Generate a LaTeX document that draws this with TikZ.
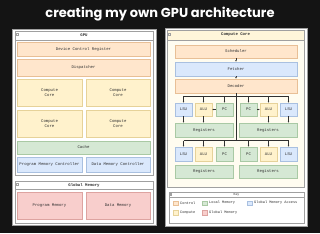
\documentclass[tikz,border=0pt]{standalone}
\usepackage{fontspec}
\newfontfamily\titlefont{Poppins}
\newfontfamily\boxfont{Liberation Mono}
\usetikzlibrary{arrows.meta}
\definecolor{bgDark}{HTML}{141414}
\definecolor{ctrlFill}{HTML}{FFE6CC}
\definecolor{ctrlLine}{HTML}{E8BF96}
\definecolor{compFill}{HTML}{FFF2CC}
\definecolor{compLine}{HTML}{E6D299}
\definecolor{locFill}{HTML}{D5E8D4}
\definecolor{locLine}{HTML}{A9C9A4}
\definecolor{gmaFill}{HTML}{DAE8FC}
\definecolor{gmaLine}{HTML}{A9C0E0}
\definecolor{gmFill}{HTML}{F8CECC}
\definecolor{gmLine}{HTML}{DDA3A0}
\definecolor{laneLine}{HTML}{A0A0A0}
\definecolor{coreTint}{HTML}{FFFCF0}
\definecolor{coreHead}{HTML}{FFF6DA}
\definecolor{txtGray}{HTML}{303030}

\begin{document}
\begin{tikzpicture}[x=1pt,y=-1pt,
    panel/.style={draw=laneLine,line width=0.4pt,fill=white},
    lane/.style={draw=laneLine,line width=0.35pt},
    lanehd/.style={font=\boxfont\bfseries\fontsize{4}{5}\selectfont,text=txtGray,inner sep=0pt},
    blk/.style={line width=0.3pt,inner sep=0pt,align=center,
                font=\boxfont\fontsize{4}{5}\selectfont,text=txtGray},
    sz/.style 2 args={minimum width=#1pt,minimum height=#2pt},
    ctrl/.style={blk,draw=ctrlLine,fill=ctrlFill},
    comp/.style={blk,draw=compLine,fill=compFill},
    locmem/.style={blk,draw=locLine,fill=locFill},
    gmacc/.style={blk,draw=gmaLine,fill=gmaFill},
    gmem/.style={blk,draw=gmLine,fill=gmFill},
    keytxt/.style={font=\boxfont\fontsize{3.6}{4}\selectfont,text=txtGray,inner sep=0pt,anchor=west},
    wire/.style={line width=0.35pt,txtGray},
    arr/.style={-{Latex[length=1.8pt,width=1.6pt]},line width=0.35pt,txtGray}]
  \fill[bgDark] (0,0) rectangle (320,233);
  \node[font=\titlefont\bfseries\fontsize{13}{15}\selectfont,text=white] (title) at (160,14) {creating my own GPU architecture};

  \draw[panel] (12,29) rectangle (156,225);
  \draw[lane] (15,31) rectangle (153,175);
  \draw[lane] (15,40) -- (153,40);
  \draw[lane] (16.5,33.5) rectangle (18.5,35.5);
  \node[lanehd] (gpuhd) at (84,35.5) {GPU};
  \node[ctrl,sz={133}{14}] (dcr) at (83.5,49) {Device Control Register};
  \node[ctrl,sz={133}{17}] (disp) at (83.5,67.5) {Dispatcher};
  \node[comp,sz={65}{27}] (cc1) at (49.5,92.5) {Compute\\Core};
  \node[comp,sz={64}{27}] (cc2) at (118,92.5) {Compute\\Core};
  \node[comp,sz={65}{27}] (cc3) at (49.5,123.5) {Compute\\Core};
  \node[comp,sz={64}{27}] (cc4) at (118,123.5) {Compute\\Core};
  \node[locmem,sz={133}{13}] (cache) at (83.5,147.5) {Cache};
  \node[gmacc,sz={65}{15}] (pmc) at (49.5,164.5) {Program Memory Controller};
  \node[gmacc,sz={64}{15}] (dmc) at (118,164.5) {Data Memory Controller};

  \draw[lane] (15,181) rectangle (153,223);
  \draw[lane] (15,189) -- (153,189);
  \draw[lane] (16.5,183.5) rectangle (18.5,185.5);
  \node[lanehd] (gmhd) at (84,185) {Global Memory};
  \node[gmem,sz={65}{27}] (pmem) at (49.5,205.5) {Program Memory};
  \node[gmem,sz={64}{27}] (dmem) at (118,205.5) {Data Memory};

  \draw[panel] (165,28) rectangle (307,226);
  \draw[lane,fill=coreTint] (167,30) rectangle (304,187);
  \draw[lane,fill=coreHead] (167,30) rectangle (304,40);
  \draw[lane] (168.5,33) rectangle (170.5,35);
  \node[lanehd] (corehd) at (235.5,35) {Compute Core};
  \node[ctrl,sz={122}{13}] (sched) at (236,51.5) {Scheduler};
  \node[gmacc,sz={122}{14}] (fetch) at (236,69) {Fetcher};
  \node[ctrl,sz={122}{14}] (dec) at (236,86) {Decoder};
  \draw[arr] (sched) -- (fetch);
  \draw[arr] (fetch) -- (dec);

  \node[gmacc,sz={17}{13}] (lsuA) at (183.5,109.5) {LSU};
  \node[comp,sz={17}{13}] (aluA) at (203.5,109.5) {ALU};
  \node[locmem,sz={17}{13}] (pcA) at (224.5,109.5) {PC};
  \node[locmem,sz={17}{13}] (pcB) at (248.5,109.5) {PC};
  \node[comp,sz={17}{13}] (aluB) at (268.5,109.5) {ALU};
  \node[gmacc,sz={17}{13}] (lsuB) at (288.5,109.5) {LSU};
  \node[locmem,sz={58}{14}] (regA) at (204,130) {Registers};
  \node[locmem,sz={58}{14}] (regB) at (268,130) {Registers};

  \node[gmacc,sz={17}{14}] (lsuC) at (183.5,154) {LSU};
  \node[comp,sz={17}{14}] (aluC) at (203.5,154) {ALU};
  \node[locmem,sz={17}{14}] (pcC) at (224.5,154) {PC};
  \node[locmem,sz={17}{14}] (pcD) at (248.5,154) {PC};
  \node[comp,sz={17}{14}] (aluD) at (268.5,154) {ALU};
  \node[gmacc,sz={17}{14}] (lsuD) at (288.5,154) {LSU};
  \node[locmem,sz={58}{13}] (regC) at (204,171.5) {Registers};
  \node[locmem,sz={58}{13}] (regD) at (268,171.5) {Registers};

  \coordinate (br1) at (236,96);
  \coordinate (br2) at (236,140.5);
  \draw[wire] (dec.south) -- (br2);
  \draw[wire] (lsuA |- br1) -- (lsuB |- br1);
  \draw[wire] (lsuC |- br2) -- (lsuD |- br2);
  \foreach \u in {lsuA,aluA,pcA,pcB,aluB,lsuB}
    \draw[arr] (\u |- br1) -- (\u.north);
  \foreach \u in {lsuC,aluC,pcC,pcD,aluD,lsuD}
    \draw[arr] (\u |- br2) -- (\u.north);
  \draw[arr] (pcA) -- (aluA);
  \draw[arr] (pcB) -- (aluB);
  \draw[arr] (lsuA) -- (regA.north -| lsuA);
  \draw[arr] (aluA) -- (regA.north -| aluA);
  \draw[arr] (aluB) -- (regB.north -| aluB);
  \draw[arr] (lsuB) -- (regB.north -| lsuB);

  \draw[lane,fill=white] (169,192) rectangle (304,223);
  \draw[lane] (169,197) -- (304,197);
  \draw[lane] (170,193.5) rectangle (171.5,195);
  \node[font=\boxfont\fontsize{3.2}{4}\selectfont,text=txtGray,inner sep=0pt] (keyhd) at (236.5,194.5) {Key};
  \node[ctrl,sz={4.5}{4.5}] (kc) at (175.5,203) {};
  \node[keytxt] (kct) at (180,203) {Control};
  \node[locmem,sz={4.5}{4.5}] (kl) at (204.5,203) {};
  \node[keytxt] (klt) at (209,203) {Local Memory};
  \node[gmacc,sz={4.5}{4.5}] (kg) at (249.5,203) {};
  \node[keytxt] (kgt) at (254,203) {Global Memory Access};
  \node[comp,sz={4.5}{4.5}] (kp) at (175.5,212.5) {};
  \node[keytxt] (kpt) at (180,212.5) {Compute};
  \node[gmem,sz={4.5}{4.5}] (km) at (204.5,212.5) {};
  \node[keytxt] (kmt) at (209,212.5) {Global Memory};
\end{tikzpicture}
\end{document}
